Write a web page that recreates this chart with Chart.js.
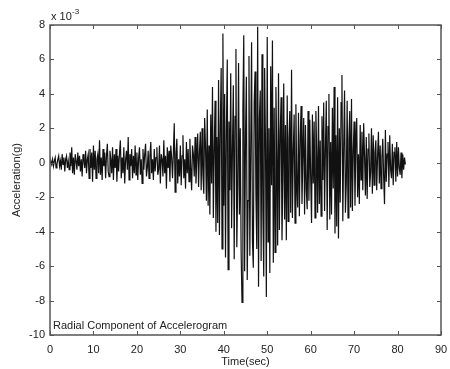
<!doctype html>
<html lang="en">
  <head>
    <meta charset="utf-8">
    <title>Radial Component of Accelerogram</title>
    <script src="https://cdn.jsdelivr.net/npm/chart.js"></script>
    <style>
      html, body { margin: 0; padding: 0; background: #fff; }
      #wrap { width: 450px; height: 369px; }
    </style>
  </head>
  <body>
    <div id="wrap"><canvas id="accel"></canvas></div>

    <script>
    // sampling step of the record (sec)
    const dt = 0.2;

    // acceleration in units of 1e-3 g, one row per 5 s
    const accel0to5   = [0.0,0.1,-0.1,0.2,-0.2,0.1,0.3,-0.3,-0.1,0.2,0.4,-0.2,0.1,-0.4,0.5,-0.1,0.3,-0.5,0.2,0.4,-0.3,0.1,-0.4,0.6,-0.2];
    const accel5to10  = [0.9,-0.6,0.3,-0.7,0.5,0.1,-0.4,0.6,-0.2,0.4,-0.5,0.2,-0.8,0.5,0.1,-0.3,0.7,-0.6,0.2,0.5,-0.9,0.8,-0.3,0.6,-1.1];
    const accel10to15 = [1.0,-0.4,0.7,-0.9,0.2,0.5,-0.6,1.3,-0.7,0.3,-1.0,0.8,-0.2,0.6,-0.9,0.4,1.1,-0.5,-0.8,0.7,0.2,-0.6,0.9,-1.0,0.5];
    const accel15to20 = [-0.3,0.8,-1.1,0.4,-0.5,0.6,1.3,-0.9,0.3,-0.6,0.9,-1.2,0.2,0.7,-0.4,1.5,-1.0,0.5,-0.2,0.8,-0.9,0.4,-0.6,1.0,-0.7];
    const accel20to25 = [0.6,-1.0,0.3,0.9,-0.7,0.2,-1.2,0.8,-0.4,0.5,1.1,-0.8,-0.3,0.7,-0.9,0.4,1.2,-0.6,0.2,-1.0,0.8,-0.5,0.3,0.9,-0.7];
    const accel25to30 = [-0.4,1.0,-1.2,0.5,0.2,-0.8,1.3,-0.6,0.4,-1.5,0.9,-0.3,0.7,-1.1,1.0,0.3,-0.9,0.6,2.3,-1.7,0.5,1.4,-1.2,0.2,-0.8];
    const accel30to35 = [1.0,-1.3,0.4,1.6,-0.9,0.2,-1.5,1.2,-0.6,0.8,-1.1,1.4,-0.3,-1.6,1.0,0.5,-0.8,1.5,-1.2,0.3,1.7,-1.4,0.6,1.8,-1.6];
    const accel35to40 = [2.0,-0.7,-1.8,2.6,0.9,-2.2,3.1,-2.5,1.0,-3.0,2.8,-1.2,4.4,-3.2,0.8,3.6,-4.0,1.5,-3.5,4.8,-4.2,2.1,5.5,-5.0,7.5];
    const accel40to45 = [-2.5,4.0,-5.5,1.8,6.0,-6.2,2.4,-1.6,5.2,-3.8,0.9,4.5,-5.6,2.7,6.6,-4.9,-1.4,5.8,-3.0,2.0,-5.3,-8.1,3.2,7.4,-6.3];
    const accel45to50 = [1.5,5.0,-6.8,-2.2,6.2,-5.4,0.8,7.0,-4.6,-6.1,3.5,5.3,-1.9,-5.0,7.9,-7.2,2.6,4.2,-5.7,6.3,-2.8,-6.6,5.5,1.2,-7.8];
    const accel50to55 = [7.3,-4.6,2.0,-6.4,5.6,-1.3,7.1,-5.8,3.2,-5.2,4.4,0.6,-4.8,5.2,-3.9,1.8,3.8,-4.5,-0.9,4.6,-3.3,2.2,-4.5,3.9,-3.4];
    const accel55to60 = [1.4,3.0,-2.9,5.4,-3.2,0.7,2.8,-3.5,3.4,-1.1,-2.6,2.9,-3.1,1.5,3.3,-2.4,0.4,2.6,-3.0,2.2,-1.6,-2.7,3.0,-2.2,2.5];
    const accel60to65 = [-0.8,-3.5,2.8,-1.2,2.4,-3.2,3.0,0.6,-2.9,3.3,-2.4,1.3,-3.1,2.7,-1.0,3.5,-2.8,0.9,3.6,-3.9,2.1,4.0,-3.3,1.2,-3.0];
    const accel65to70 = [3.2,-1.5,4.4,-4.1,1.6,-3.7,3.8,-4.4,2.0,-2.3,3.5,5.1,-3.4,0.9,4.2,-2.9,-1.2,3.6,-3.2,1.4,3.0,-2.6,3.7,-2.8,0.7];
    const accel70to75 = [2.4,-2.5,1.1,2.6,-2.0,0.5,-2.4,2.2,-1.0,1.8,-1.6,2.3,0.4,-1.9,1.5,-2.1,0.8,1.7,-1.4,-0.5,2.0,-1.8,1.6,-1.3,0.6];
    const accel75to80 = [1.3,-1.6,0.4,1.8,-1.2,1.0,-1.5,0.3,1.4,-0.8,-2.4,1.9,-1.1,0.5,1.2,-1.4,1.6,-0.4,-0.9,1.1,-1.3,0.6,0.9,-1.1,1.2];
    const accel80to82 = [-0.8,0.9,-0.3,-0.7,0.6,-0.9,0.5,-0.4,0.3,-0.1];

    const xTicks = [0, 10, 20, 30, 40, 50, 60, 70, 80, 90];
    const yTicks = [-10, -8, -6, -4, -2, 0, 2, 4, 6, 8];

    const accel = [].concat(accel0to5, accel5to10, accel10to15, accel15to20, accel20to25,
      accel25to30, accel30to35, accel35to40, accel40to45, accel45to50, accel50to55,
      accel55to60, accel60to65, accel65to70, accel70to75, accel75to80, accel80to82);
    const points = accel.map((a, i) => ({ x: i * dt, y: a }));

    const FONT = 'Liberation Sans, Arial, sans-serif';
    const AXIS = '#555';

    // matlab-style box with inward ticks, exponent and caption
    const boxPlugin = {
      id: 'box',
      afterDraw(chart) {
        const { ctx, chartArea: a, scales } = chart;
        const xs = scales.x, ys = scales.y;
        ctx.save();
        ctx.strokeStyle = AXIS;
        ctx.lineWidth = 1.5;
        ctx.strokeRect(a.left, a.top, a.right - a.left, a.bottom - a.top);
        ctx.lineWidth = 1;
        ctx.beginPath();
        xTicks.forEach(v => {
          const px = Math.round(xs.getPixelForValue(v)) + 0.5;
          ctx.moveTo(px, a.bottom); ctx.lineTo(px, a.bottom - 4);
          ctx.moveTo(px, a.top); ctx.lineTo(px, a.top + 4);
        });
        yTicks.forEach(v => {
          const py = Math.round(ys.getPixelForValue(v)) + 0.5;
          ctx.moveTo(a.left, py); ctx.lineTo(a.left + 4, py);
          ctx.moveTo(a.right, py); ctx.lineTo(a.right - 4, py);
        });
        ctx.stroke();

        ctx.fillStyle = '#222';
        ctx.font = '11px ' + FONT;
        ctx.textBaseline = 'alphabetic';
        ctx.textAlign = 'left';
        ctx.fillText('Radial Component of Accelerogram', a.left + 3, a.bottom - 6);

        ctx.fillText('x 10', a.left + 1, a.top - 5);
        ctx.font = '8px ' + FONT;
        ctx.fillText('-3', a.left + 22, a.top - 11);
        ctx.restore();
      }
    };

    new Chart(document.getElementById('accel'), {
      type: 'line',
      data: {
        datasets: [{
          data: points,
          borderColor: '#111',
          borderWidth: 1.2,
          pointRadius: 0,
          tension: 0,
          fill: false
        }]
      },
      options: {
        responsive: true,
        maintainAspectRatio: false,
        animation: false,
        layout: { padding: { top: 25, right: 9, left: 0, bottom: 0 } },
        plugins: {
          legend: { display: false },
          tooltip: { enabled: false }
        },
        scales: {
          x: {
            type: 'linear',
            min: 0,
            max: 90,
            afterBuildTicks: s => { s.ticks = xTicks.map(v => ({ value: v })); },
            afterFit: s => { s.height = 34; s.paddingLeft = 0; s.paddingRight = 0; },
            grid: { display: false, drawTicks: false },
            border: { display: false },
            ticks: { color: '#222', font: { family: FONT, size: 11 }, padding: 8, maxRotation: 0 },
            title: { display: true, text: 'Time(sec)', color: '#222', font: { family: FONT, size: 11 }, padding: 0 }
          },
          y: {
            min: -10,
            max: 8,
            afterBuildTicks: s => { s.ticks = yTicks.map(v => ({ value: v })); },
            afterFit: s => { s.width = 50; s.paddingTop = 0; s.paddingBottom = 0; },
            grid: { display: false, drawTicks: false },
            border: { display: false },
            ticks: { color: '#222', font: { family: FONT, size: 11 }, padding: 5 },
            title: { display: true, text: 'Acceleration(g)', color: '#222', font: { family: FONT, size: 11 }, padding: { top: 10, bottom: 0 } }
          }
        }
      },
      plugins: [boxPlugin]
    });
    </script>
  </body>
</html>
